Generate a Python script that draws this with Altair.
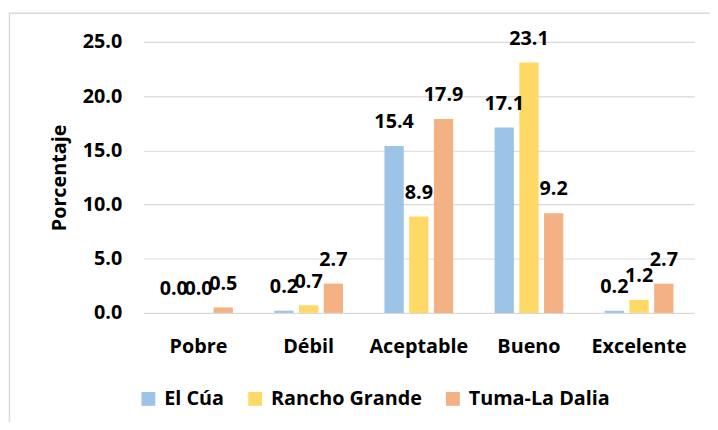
import altair as alt
import pandas as pd

categories = ["Pobre", "Débil", "Aceptable", "Bueno", "Excelente"]
series = ["El Cúa", "Rancho Grande", "Tuma-La Dalia"]
el_cua = [0.0, 0.2, 15.4, 17.1, 0.2]
rancho_grande = [0.0, 0.7, 8.9, 23.1, 1.2]
tuma_la_dalia = [0.5, 2.7, 17.9, 9.2, 2.7]
colors = ["#9DC3E6", "#FFD966", "#F4B183"]
y_ticks = [0, 5, 10, 15, 20, 25]

rows = []
for s, vals in zip(series, [el_cua, rancho_grande, tuma_la_dalia]):
    for c, v in zip(categories, vals):
        rows.append({"Categoria": c, "Zona": s, "Valor": v})
df = pd.DataFrame(rows)

FONT = "Open Sans"
FS = 20

x = alt.X(
    "Categoria:N",
    sort=categories,
    scale=alt.Scale(paddingInner=0.376, paddingOuter=0.188),
    axis=alt.Axis(
        title=None, labelAngle=0, labelFontSize=FS, labelFontWeight="bold",
        labelFont=FONT, labelColor="#000000", labelPadding=24,
        domain=False, ticks=False, grid=False,
    ),
)
xo = alt.XOffset("Zona:N", sort=series, scale=alt.Scale(paddingInner=0.22, paddingOuter=0))
y = alt.Y(
    "Valor:Q",
    scale=alt.Scale(domain=[0, 25], nice=False),
    axis=alt.Axis(
        values=y_ticks, format=".1f", title="Porcentaje",
        labelFontSize=FS, labelFontWeight="bold", labelFont=FONT, labelColor="#000000",
        labelPadding=22, domain=False, ticks=False, grid=True,
        gridColor="#D9D9D9", gridWidth=1.2,
        titleFontSize=FS, titleFontWeight="bold", titleFont=FONT, titleColor="#000000",
        titleX=-79, titleBaseline="alphabetic",
    ),
)
color = alt.Color(
    "Zona:N",
    sort=series,
    scale=alt.Scale(domain=series, range=colors),
    legend=alt.Legend(
        title=None, orient="none", legendX=-5, legendY=351, direction="horizontal",
        symbolType="square", symbolSize=196, symbolStrokeWidth=0, symbolOpacity=1,
        labelFontSize=FS, labelFontWeight="bold", labelFont=FONT, labelColor="#000000",
        labelOffset=6, columnPadding=21, labelLimit=300,
    ),
)

bars = alt.Chart(df).mark_bar().encode(x=x, xOffset=xo, y=y, color=color)
labels = alt.Chart(df).mark_text(
    dy=-18, baseline="alphabetic", fontSize=FS, fontWeight="bold", font=FONT, color="#000000"
).encode(x=x, xOffset=xo, y=y, text=alt.Text("Valor:Q", format=".1f"))

frame = alt.Chart(alt.Data(values=[{"f": 1}])).mark_rect(
    fill="transparent", stroke="#D9D9D9", strokeWidth=1.5
).encode(x=alt.value(-135.5), x2=alt.value(600), y=alt.value(-29), y2=alt.value(440))

chart = alt.layer(frame, bars, labels).properties(
    width=557, height=274,
    autosize=alt.AutoSizeParams(type="none"),
    padding={"left": 137, "top": 32, "right": 16, "bottom": 108},
).configure_view(stroke=None)

chart.save("out.html", embed_options={"renderer": "svg", "actions": False})
